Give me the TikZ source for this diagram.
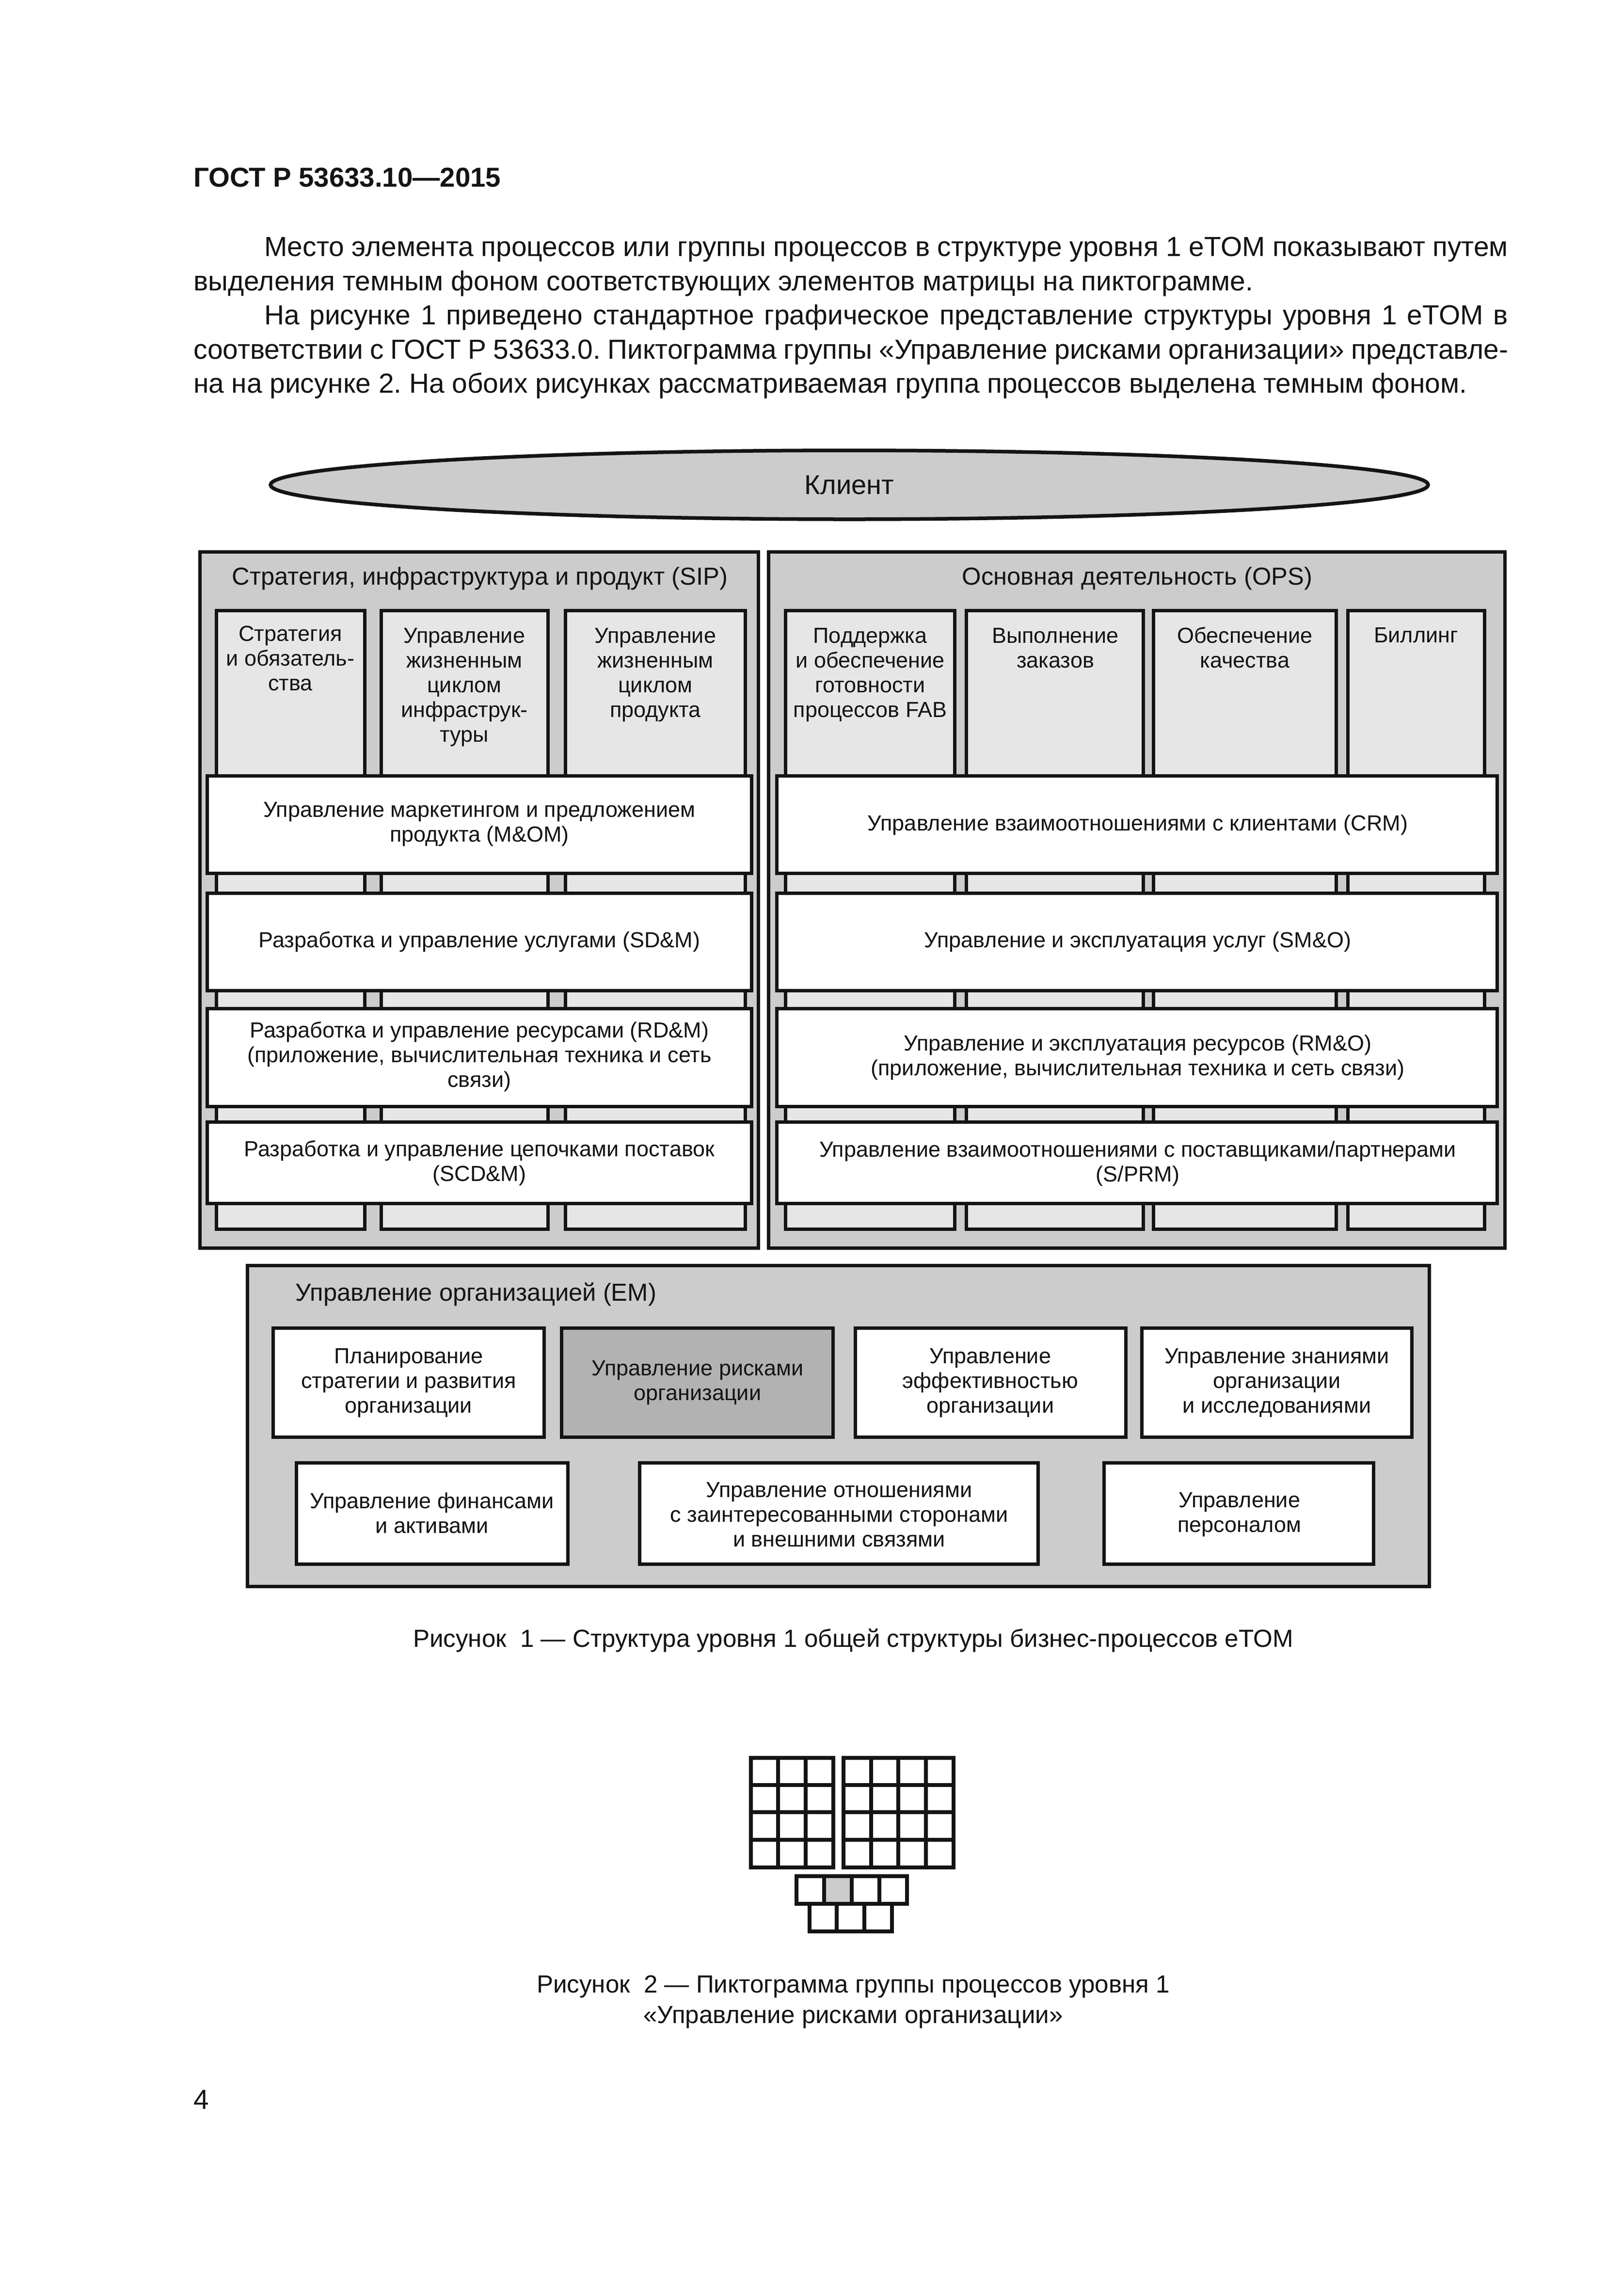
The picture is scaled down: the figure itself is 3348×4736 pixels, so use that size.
\documentclass[tikz,border=0pt]{standalone}
\usepackage{fontspec}
\setmainfont{Liberation Sans}
\usetikzlibrary{shapes.geometric}
\definecolor{ink}{HTML}{141414}
\definecolor{panel}{HTML}{CCCCCC}
\definecolor{colfill}{HTML}{E6E6E6}
\definecolor{riskfill}{HTML}{B2B2B2}
\tikzset{
  boxbase/.style={draw=ink,line width=1.4pt,rectangle,inner sep=0pt,outer sep=0pt},
  panelbox/.style={boxbase,fill=panel},
  colbox/.style={boxbase,fill=colfill},
  whitebox/.style={boxbase,fill=white},
  riskbox/.style={boxbase,fill=riskfill},
  lbl/.style={inner sep=0pt,outer sep=0pt,align=center,text=ink,yshift=-0.9pt,font=\fontsize{9}{10.2}\selectfont},
  ttl/.style={lbl,font=\fontsize{10.15}{10.2}\selectfont},
  para/.style={inner sep=0pt,outer sep=0pt,anchor=base west,text=ink},
  figcap/.style={inner sep=0pt,outer sep=0pt,align=center,text=ink,font=\fontsize{10.22}{12.6}\selectfont},
  pict/.style={draw=ink,line width=1.6pt,line cap=rect}
}
\newcommand\bx[6]{\node[#2,minimum width={(#5-#3)*0.2pt},minimum height={(#6-#4)*0.2pt}] (#1) at ({(#3+#5)/2},{(#4+#6)/2}) {};}
\newcommand\tx[5][lbl]{\node[#1] (#2) at (#3,#4) {\strut #5\strut};}
\begin{document}
\begin{tikzpicture}[x=0.2pt,y=-0.2pt]
\frenchspacing
\fill[white,use as bounding box] (0,0) rectangle (3348,4736);
% header and body text
\node[para,font=\bfseries\fontsize{11.27}{14.1}\selectfont] (head) at (399,385) {ГОСТ Р 53633.10—2015};
\node[para,font=\fontsize{11.37}{14.1}\selectfont] (body) at (399,528.6) {\vtop{%
\hbox to 542.4pt{\hskip29.2pt Место элемента процессов или группы процессов в структуре уровня 1 eTOM показывают путем}
\hbox{выделения темным фоном соответствующих элементов матрицы на пиктограмме.}
\hbox to 542.4pt{\hskip29.2pt На рисунке 1 приведено стандартное графическое представление структуры уровня 1 eTOM в}
\hbox to 542.4pt{соответствии с ГОСТ Р 53633.0. Пиктограмма группы «Управление рисками организации» представле-}
\hbox{на на рисунке 2. На обоих рисунках рассматриваемая группа процессов выделена темным фоном.}}};
% client
\node[draw=ink,line width=1.5pt,fill=panel,ellipse,inner sep=0pt,outer sep=0pt,minimum width=477.6pt,minimum height=28.4pt,text=ink,font=\fontsize{11.2}{12}\selectfont] (client) at (1752,1000) {Клиент};
% SIP
\bx{sip}{panelbox}{412}{1138.5}{1564}{2574}
\tx[ttl]{siptitle}{990}{1191}{Стратегия, инфраструктура и продукт (SIP)}
\bx{sipa}{colbox}{446}{1259}{752}{2535}
\bx{sipb}{colbox}{786}{1259}{1130}{2535}
\bx{sipc}{colbox}{1166}{1259}{1537}{2535}
\tx{sipat}{599}{1359}{Стратегия\\и обязатель-\\ства}
\tx{sipbt}{958}{1414}{Управление\\жизненным\\циклом\\инфраструк-\\туры}
\tx{sipct}{1352}{1388}{Управление\\жизненным\\циклом\\продукта}
\bx{mom}{whitebox}{427}{1600}{1550}{1801}
\tx{momt}{989}{1696}{Управление маркетингом и предложением\\продукта (M\&OM)}
\bx{sdm}{whitebox}{427}{1842}{1550}{2043}
\tx{sdmt}{989}{1940}{Разработка и управление услугами (SD\&M)}
\bx{rdm}{whitebox}{427}{2080}{1550}{2282}
\tx{rdmt}{989}{2177}{Разработка и управление ресурсами (RD\&M)\\(приложение, вычислительная техника и сеть\\связи)}
\bx{scd}{whitebox}{427}{2314}{1550}{2482}
\tx{scdt}{989}{2396}{Разработка и управление цепочками поставок\\(SCD\&M)}
% OPS
\bx{ops}{panelbox}{1585}{1138.5}{3104.5}{2574}
\tx[ttl]{opstitle}{2346}{1191}{Основная деятельность (OPS)}
\bx{opsa}{colbox}{1620}{1259}{1969}{2535}
\bx{opsb}{colbox}{1993}{1259}{2358}{2535}
\bx{opsc}{colbox}{2379}{1259}{2756}{2535}
\bx{opsd}{colbox}{2780}{1259}{3062.5}{2535}
\tx{opsat}{1795}{1388}{Поддержка\\и обеспечение\\готовности\\процессов FAB}
\tx{opsbt}{2177}{1337}{Выполнение\\заказов}
\tx{opsct}{2568}{1337}{Обеспечение\\качества}
\tx{opsdt}{2921}{1311}{Биллинг}
\bx{crm}{whitebox}{1602}{1600}{3088.5}{1801}
\tx{crmt}{2347}{1699}{Управление взаимоотношениями с клиентами (CRM)}
\bx{smo}{whitebox}{1602}{1842}{3088.5}{2043}
\tx{smot}{2347}{1940}{Управление и эксплуатация услуг (SM\&O)}
\bx{rmo}{whitebox}{1602}{2080}{3088.5}{2282}
\tx{rmot}{2347}{2178}{Управление и эксплуатация ресурсов (RM\&O)\\(приложение, вычислительная техника и сеть связи)}
\bx{prm}{whitebox}{1602}{2314}{3088.5}{2482}
\tx{prmt}{2347}{2397}{Управление взаимоотношениями с поставщиками/партнерами\\(S/PRM)}
% EM
\bx{em}{panelbox}{510}{2610}{2948}{3272}
\tx[ttl]{emtitle}{982}{2668}{Управление организацией (EM)}
\bx{ema}{whitebox}{563}{2739}{1122}{2964}
\tx{emat}{843}{2849}{Планирование\\стратегии и развития\\организации}
\bx{emb}{riskbox}{1158}{2739}{1718}{2964}
\tx{embt}{1439}{2848}{Управление рисками\\организации}
\bx{emc}{whitebox}{1764}{2739}{2322}{2964}
\tx{emct}{2043}{2849}{Управление\\эффективностью\\организации}
\bx{emd}{whitebox}{2355}{2739}{2912}{2964}
\tx{emdt}{2634}{2849}{Управление знаниями\\организации\\и исследованиями}
\bx{eme}{whitebox}{611}{3017}{1171}{3226}
\tx{emet}{891}{3122}{Управление финансами\\и активами}
\bx{emf}{whitebox}{1319}{3017}{2141}{3226}
\tx{emft}{1731}{3125}{Управление отношениями\\с заинтересованными сторонами\\и внешними связями}
\bx{emg}{whitebox}{2277}{3017}{2833}{3226}
\tx{emgt}{2557}{3120}{Управление\\персоналом}
% captions
\node[figcap] (cap1) at (1760,3384) {Рисунок\ \ 1 — Структура уровня 1 общей структуры бизнес-процессов eTOM};
% pictogram
\fill[panel] (1700,3870.3) rectangle (1757,3927.3);
\foreach \x in {1549,1605.3,1662.3,1719} \draw[pict] (\x,3626) -- (\x,3852.3);
\foreach \x in {1740,1797,1853.3,1910.3,1967} \draw[pict] (\x,3626) -- (\x,3852.3);
\foreach \y in {3626,3682.3,3738.3,3795.3,3852.3} {\draw[pict] (1549,\y) -- (1719,\y); \draw[pict] (1740,\y) -- (1967,\y);}
\foreach \x in {1643,1700,1757,1814,1871} \draw[pict] (\x,3870.3) -- (\x,3927.3);
\draw[pict] (1643,3870.3) -- (1871,3870.3);
\draw[pict] (1643,3927.3) -- (1871,3927.3);
\foreach \x in {1670,1726.3,1783.3,1840} \draw[pict] (\x,3927.3) -- (\x,3984);
\draw[pict] (1670,3984) -- (1840,3984);
\node[figcap] (cap2) at (1760,4129) {\strut Рисунок\ \ 2 — Пиктограмма группы процессов уровня 1\\«Управление рисками организации»\strut};
\node[para,font=\fontsize{11.37}{14.1}\selectfont] (pageno) at (399,4350) {4};
\end{tikzpicture}
\end{document}
